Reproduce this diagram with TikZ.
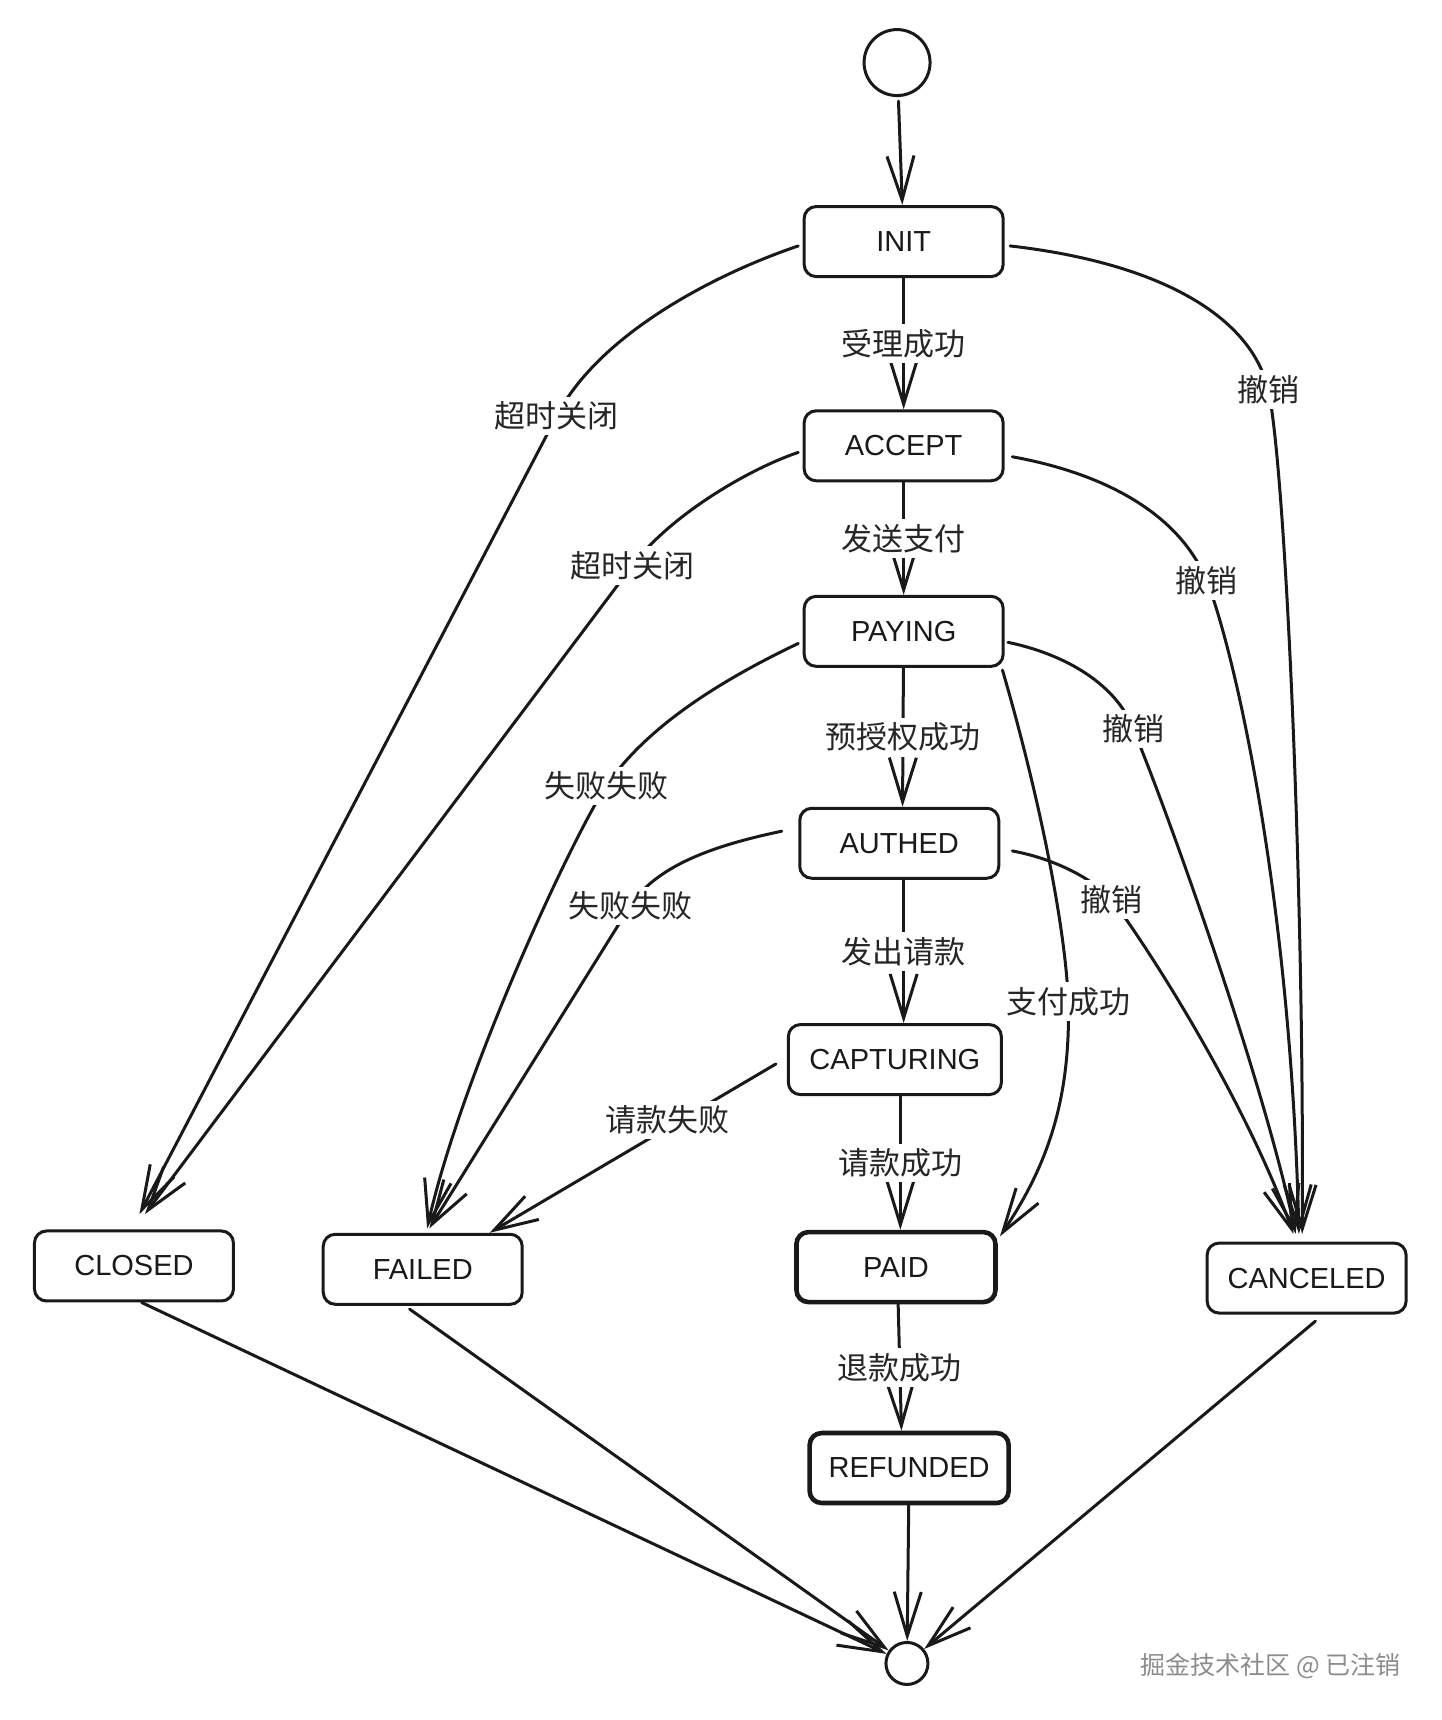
\documentclass[tikz,border=0pt]{standalone}
\usepackage{fontspec}
\setmainfont{Liberation Sans}
\newfontfamily\cjk{Noto Sans CJK SC}
\usetikzlibrary{arrows.meta,calc,shapes.geometric}
\begin{document}
\begin{tikzpicture}[x=1.098pt,y=-1.098pt,
  state/.style={draw=black!90, line width=3pt, rounded corners=12pt, minimum width=199pt, minimum height=70pt, fill=white, inner sep=0pt, font=\fontsize{29}{34}\selectfont, text=black!90},
  finalstate/.style={state, line width=4.6pt},
  pseudo/.style={circle, draw=black!90, line width=3pt, inner sep=0pt, fill=white},
  lbl/.style={fill=white, inner sep=5pt, font=\cjk\fontsize{31}{36}\selectfont, text=black!85},
  edge/.style={line width=3pt, draw=black!90, line cap=round, line join=round, -{Straight Barb[length=44pt,width=27pt]}},
]
\useasboundingbox (0,0) rectangle (1312.4,1566.5);

% nodes
\node[pseudo, minimum size=66pt] (start) at (817,57) {};
\node[state] (init) at (823,220) {INIT};
\node[state] (accept) at (823,406) {ACCEPT};
\node[state] (paying) at (823,575) {PAYING};
\node[state] (authed) at (819,768) {AUTHED};
\node[state, minimum width=213pt] (capt) at (815,965) {CAPTURING};
\node[finalstate] (paid) at (816,1154) {PAID};
\node[finalstate] (refund) at (828,1337) {REFUNDED};
\node[state] (closed) at (122,1153) {CLOSED};
\node[state] (failed) at (385,1156) {FAILED};
\node[state] (cancel) at (1190,1164) {CANCELED};
\node[pseudo, minimum size=42pt] (end) at (826,1515) {};
\node[font=\cjk\fontsize{25}{30}\selectfont, text=black!45] (wm) at (1157,1517) {掘金技术社区 @ 已注销};

% main vertical chain
\draw[edge, shorten <=4pt] (start) -- (init);
\draw[edge] (init) -- node[lbl]{受理成功} (accept);
\draw[edge] (accept) -- node[lbl]{发送支付} (paying);
\draw[edge] (paying) -- node[lbl]{预授权成功} ([shift={(3,0)}]authed.north);
\draw[edge] ([shift={(4,0)}]authed.south) -- node[lbl]{发出请款} ([shift={(8,0)}]capt.north);
\draw[edge] ([shift={(5,0)}]capt.south) -- node[lbl]{请款成功} ([shift={(4,0)}]paid.north);
\draw[edge] ([shift={(2,0)}]paid.south) -- node[lbl]{退款成功} ([shift={(-7,0)}]refund.north);

% to CLOSED
\draw[edge] ([shift={(-4,4)}]init.west) .. controls (650,250) and (545,305) .. (507,379) node[lbl]{超时关闭} -- ([shift={(5,-14)}]closed.north);
\draw[edge] ([shift={(-4,6)}]accept.west) .. controls (680,428) and (610,470) .. (576,515) node[lbl]{超时关闭} -- ([shift={(10,-14)}]closed.north);

% to CANCELED
\draw[edge] ([shift={(5,4)}]init.east) .. controls (1060,240) and (1140,290) .. (1155,355) node[lbl]{撤销} .. controls (1170,420) and (1188,800) .. ([shift={(-4,-7)}]cancel.north);
\draw[edge] ([shift={(7,10)}]accept.east) .. controls (1010,432) and (1075,470) .. (1099,529) node[lbl]{撤销} .. controls (1120,580) and (1175,800) .. ([shift={(-7,-7)}]cancel.north);
\draw[edge] ([shift={(3,10)}]paying.east) .. controls (980,598) and (1020,630) .. (1032,664) node[lbl]{撤销} .. controls (1060,730) and (1150,980) .. ([shift={(-10,-7)}]cancel.north);
\draw[edge] ([shift={(11,7)}]authed.east) .. controls (960,782) and (995,800) .. (1012,819) node[lbl]{撤销} .. controls (1030,840) and (1130,990) .. ([shift={(-12,-7)}]cancel.north);

% PAYING -> PAID
\draw[edge] ([shift={(-2,2)}]paying.south east) .. controls (945,720) and (970,840) .. (973,912) node[lbl]{支付成功} .. controls (975,1000) and (955,1060) .. ([shift={(2,6)}]paid.north east);

% to FAILED
\draw[edge] ([shift={(-4,11)}]paying.west) .. controls (660,618) and (590,660) .. (552,716) node[lbl]{失败失败} .. controls (520,765) and (420,980) .. ([shift={(4,-4)}]failed.north);
\draw[edge] ([shift={(-15,-11)}]authed.west) .. controls (660,768) and (600,785) .. (574,825) node[lbl]{失败失败} -- ([shift={(6,-4)}]failed.north);
\draw[edge] ([shift={(-10,4)}]capt.west) -- node[lbl, pos=0.38, yshift=8pt]{请款失败} ([shift={(-31,0)}]failed.north east);

% to final
\draw[edge] ([shift={(7,0)}]closed.south) -- (end);
\draw[edge] ([shift={(-12,3)}]failed.south) -- (end);
\draw[edge] (refund) -- (end);
\draw[edge] ([shift={(8,6)}]cancel.south) -- (end);
\end{tikzpicture}
\end{document}
